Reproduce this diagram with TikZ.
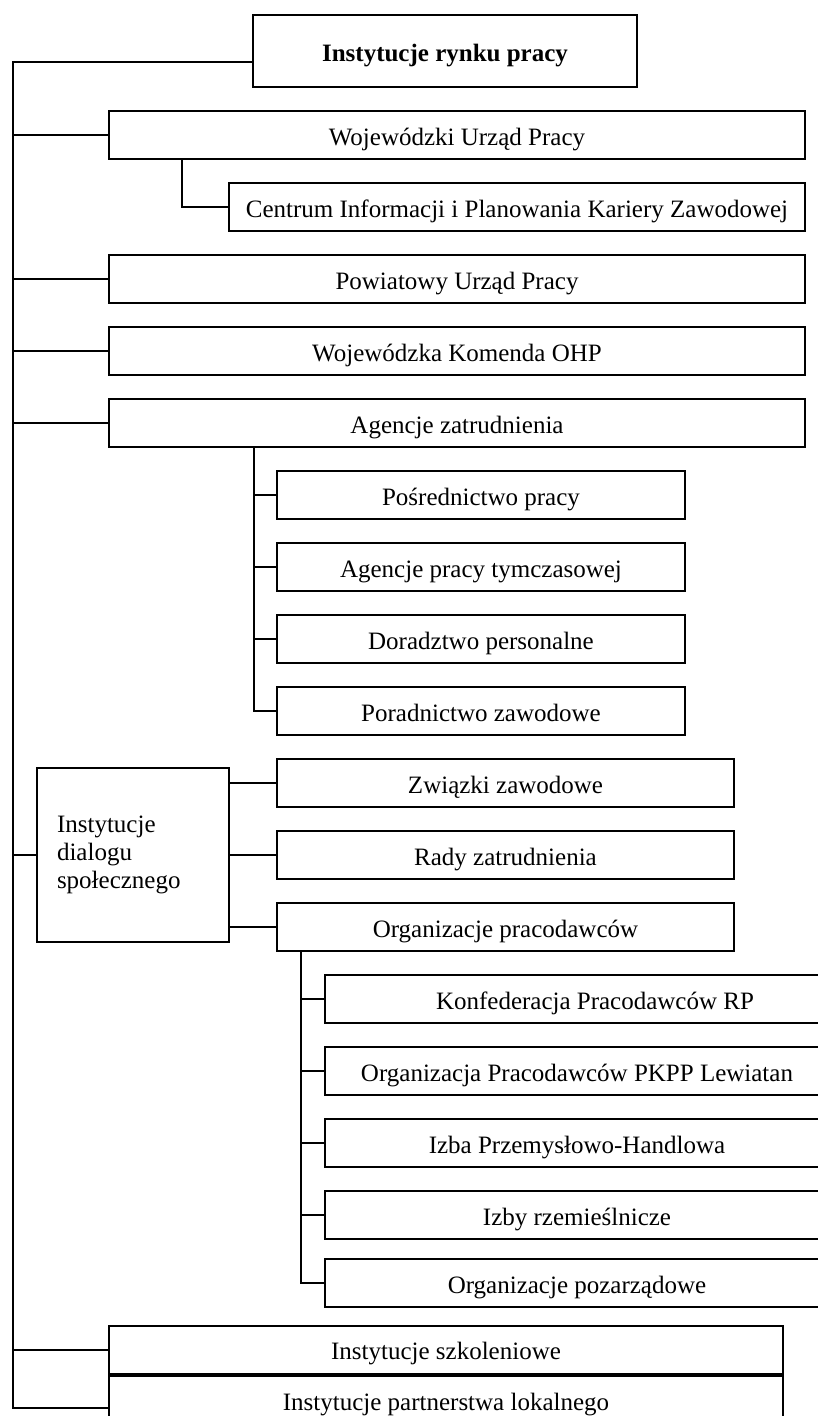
\documentclass[tikz,border=0pt]{standalone}
\usepackage{fontspec}
\setmainfont{Liberation Serif}
\tikzset{
  box/.style={draw, line width=2pt, inner sep=0pt, minimum height=48pt,
    text height=26pt, text depth=6pt, font=\fontsize{25}{29}\selectfont},
  dialbox/.style={draw, line width=2pt, inner xsep=20pt, inner ysep=0pt,
    minimum width=192pt, minimum height=174pt, text width=152pt, align=left,
    font=\fontsize{25}{28}\selectfont},
  link/.style={line width=2pt},
}

\begin{document}
\begin{tikzpicture}[x=1pt,y=-1pt]
\useasboundingbox (0,0) rectangle (818,1416);
\clip (0,0) rectangle (818,1416);

% Title
\node[box, minimum width=384pt, minimum height=72pt, font=\fontsize{25}{29}\selectfont\bfseries] (top) at (445,51) {Instytucje rynku pracy};

% First level
\node[box, minimum width=696pt] (woj) at (457,135) {Wojewódzki Urząd Pracy};
\node[box, minimum width=576pt] (cent) at (517,207) {Centrum Informacji i Planowania Kariery Zawodowej};
\node[box, minimum width=696pt] (pow) at (457,279) {Powiatowy Urząd Pracy};
\node[box, minimum width=696pt] (ohp) at (457,351) {Wojewódzka Komenda OHP};
\node[box, minimum width=696pt] (agz) at (457,423) {Agencje zatrudnienia};

% Agencies
\foreach \name/\y/\lab in {posr/495/Pośrednictwo pracy, apt/567/Agencje pracy tymczasowej,
    dor/639/Doradztwo personalne, por/711/Poradnictwo zawodowe} {
  \node[box, minimum width=408pt] (\name) at (481,\y) {\lab};
}

% Social dialogue
\node[dialbox] (dial) at (133,855) {Instytucje\\dialogu\\społecznego};
\foreach \name/\y/\lab in {zw/783/Związki zawodowe, rady/855/Rady zatrudnienia,
    orgp/927/Organizacje pracodawców} {
  \node[box, minimum width=457pt] (\name) at (505.5,\y) {\lab};
}

% Employer organisations
\foreach \name/\y/\lab in {konf/999/\hspace*{36pt}Konfederacja Pracodawców RP,
    pkpp/1071/Organizacja Pracodawców PKPP Lewiatan, izba/1143/Izba Przemysłowo-Handlowa,
    izrz/1215/Izby rzemieślnicze, opoz/1283/Organizacje pozarządowe} {
  \node[box, minimum width=504pt] (\name) at (577,\y) {\lab};
}

% Bottom
\node[box, minimum width=674pt] (szk) at (446,1349.5) {Instytucje szkoleniowe};
\node[box, minimum width=674pt] (plok) at (446,1400) {Instytucje partnerstwa lokalnego};

% Spine
\coordinate (spine) at (13,62);
\draw[link] (top.west |- spine) -- (spine) |- ([yshift=-8pt]plok.west);
\foreach \n in {woj,pow,ohp,agz,dial,szk}
  \draw[link] (\n.west) -- (\n.west -| spine);

% Forks
\coordinate (wojfork) at (182,0);
\draw[link] (woj.south -| wojfork) |- (cent.west);

\coordinate (agzfork) at (254,0);
\draw[link] (agz.south -| agzfork) |- (por.west);
\foreach \n in {posr,apt,dor}
  \draw[link] (\n.west) -- (\n.west -| agzfork);

\foreach \n in {zw,rady,orgp}
  \draw[link] (\n.west) -- (\n.west -| dial.east);

\coordinate (orgfork) at (301,0);
\draw[link] (orgp.south -| orgfork) |- (opoz.west);
\foreach \n in {konf,pkpp,izba,izrz}
  \draw[link] (\n.west) -- (\n.west -| orgfork);

\end{tikzpicture}
\end{document}
